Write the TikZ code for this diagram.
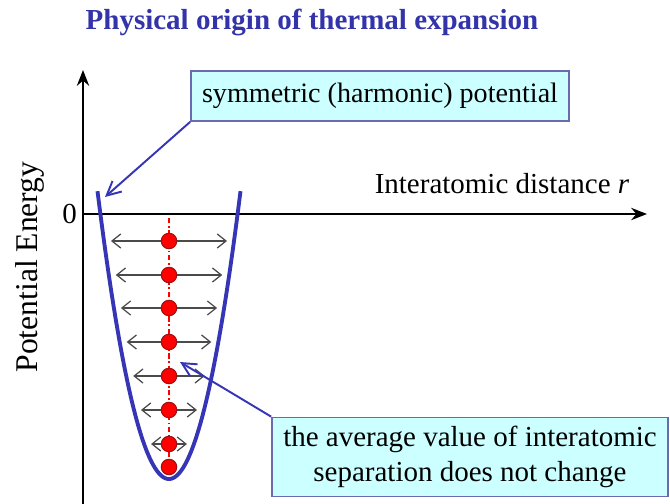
\documentclass[tikz,border=0pt]{standalone}
\usepackage{fontspec}
\setmainfont{Liberation Serif}
\usetikzlibrary{arrows.meta, positioning}
\definecolor{titleBlue}{HTML}{3333AA}
\definecolor{potBlue}{HTML}{3535B5}
\definecolor{boxCyan}{HTML}{CCFFFF}
\definecolor{boxEdge}{HTML}{6A6AB0}
\definecolor{atomRed}{HTML}{FF0000}
\definecolor{atomEdge}{HTML}{A01010}
\definecolor{vibGray}{HTML}{4A4A4A}

\begin{document}
\begin{tikzpicture}[x=0.02cm, y=-0.02cm,
    caja/.style={rectangle, fill=boxCyan, draw=boxEdge, line width=1pt,
      align=center, font=\fontsize{16}{19}\selectfont, text=black, inner sep=0pt},
    eje/.style={-{Stealth[length=9pt, width=7pt]}, line width=1.1pt},
    ar/.style={-{Straight Barb[length=8pt, width=8pt]}, line width=1.1pt, potBlue},
    vib/.style={{Straight Barb[length=5pt, width=8pt]}-{Straight Barb[length=5pt, width=8pt]},
      line width=0.7pt, vibGray},
    atomo/.style={circle, fill=atomRed, draw=atomEdge, line width=0.6pt,
      minimum size=0.31cm, inner sep=0pt},
    lb/.style={font=\fontsize{16.5}{19}\selectfont}]
  \useasboundingbox (0,0) rectangle (670,504);
  \node[font=\fontsize{16.5}{20}\selectfont\bfseries, text=titleBlue] (titulo) at (312,22)
    {Physical origin of thermal expansion};
  % axes
  \coordinate (o) at (83,214);
  \coordinate (ytop) at (83,70);
  \coordinate (ybot) at (83,504);
  \coordinate (xend) at (647,214);
  \draw[eje] (ybot) -- (ytop);
  \draw[eje] (o) -- (xend);
  \node[lb, left=0pt of o] (cero) {0};
  \node[lb, font=\fontsize{18}{21}\selectfont, rotate=90] (ejey) at (30,267) {Potential Energy};
  \node[lb] (ejex) at (502,184) {Interatomic distance \textit{r}};
  % potential well
  \draw[line width=2.2pt, potBlue] plot[domain=-71.5:71.5, samples=80] ({169+\x},{479-0.0563*\x*\x});
  \coordinate (potL) at (105,197);
  \draw[atomRed, line width=0.9pt, dash pattern=on 3pt off 1.5pt on 1pt off 1.5pt] (169,218) -- (169,468);
  \foreach \yy [count=\i] in {241,275,308,342,376,410,444}{
    \pgfmathsetmacro{\hw}{sqrt((479-\yy)/0.0563)-7}
    \coordinate (l\i) at ({169-\hw},\yy);
    \coordinate (r\i) at ({169+\hw},\yy);
    \draw[vib] (l\i) -- (r\i);
  }
  \foreach \yy [count=\i] in {241,275,308,342,376,410,444,467}
    \node[atomo] (a\i) at (169,\yy) {};
  % callouts
  \node[caja, minimum width=7.56cm, minimum height=1.0cm] (simetrico) at (380,96)
    {symmetric (harmonic) potential};
  \node[caja, font=\fontsize{16.5}{19.5}\selectfont, minimum width=7.92cm, minimum height=1.58cm]
    (promedio) at (470,457) {the average value of interatomic\\separation does not change};
  \coordinate (centro) at (180,362);
  \draw[ar] (simetrico.south west) -- (potL);
  \draw[ar] (promedio.north west) -- (centro);
\end{tikzpicture}
\end{document}
